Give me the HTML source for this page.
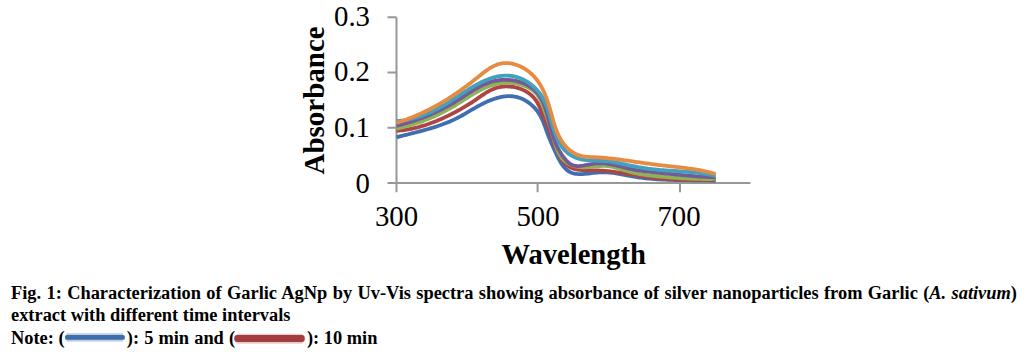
<!DOCTYPE html>
<html><head><meta charset="utf-8">
<style>
html,body{margin:0;padding:0;background:#fff;width:1026px;height:352px;overflow:hidden}
svg{display:block}
.t{font-family:"Liberation Serif",serif}
</style></head>
<body>
<svg width="1026" height="352" viewBox="0 0 1026 352">
<g stroke="#979797" stroke-width="2" fill="none">
<path d="M396.5 17.3V192.3M387.5 17.3H396.5M387.5 72.5H396.5M387.5 127.8H396.5M387.5 183H750.5M537.6 183V192.3M680 183V192.3"/>
</g>
<g class="t" font-size="28.8" fill="#000">
<text x="370" y="26" text-anchor="end">0.3</text>
<text x="370" y="81" text-anchor="end">0.2</text>
<text x="370" y="136.5" text-anchor="end">0.1</text>
<text x="370" y="192.8" text-anchor="end">0</text>
<text x="396.5" y="226" text-anchor="middle">300</text>
<text x="538" y="226" text-anchor="middle">500</text>
<text x="679" y="226.3" text-anchor="middle">700</text>
</g>
<text class="t" font-weight="bold" font-size="28.6" x="501.4" y="263.6">Wavelength</text>
<text class="t" font-weight="bold" font-size="29" transform="translate(323.9 174.5) rotate(-90)">Absorbance</text>
<g id="curves" fill="none" stroke-width="3.8" stroke-linejoin="round" stroke-linecap="butt">
<path stroke="#3f6fb0" d="M396.54 137.26 L397.90 136.91 L399.26 136.55 L400.63 136.20 L402.00 135.86 L403.38 135.51 L404.76 135.16 L406.14 134.82 L407.52 134.47 L408.91 134.13 L410.30 133.78 L411.69 133.43 L413.08 133.08 L414.47 132.73 L415.86 132.38 L417.25 132.02 L418.65 131.66 L420.04 131.29 L421.43 130.93 L422.82 130.55 L424.21 130.17 L425.60 129.79 L426.99 129.40 L428.38 129.00 L429.76 128.60 L431.14 128.18 L432.52 127.76 L433.89 127.34 L435.26 126.90 L436.63 126.46 L437.99 126.00 L439.35 125.54 L440.71 125.06 L442.06 124.57 L443.40 124.08 L444.74 123.57 L446.08 123.05 L447.40 122.51 L448.72 121.96 L450.04 121.40 L451.35 120.83 L452.65 120.24 L453.94 119.64 L455.23 119.02 L456.50 118.38 L457.77 117.73 L459.03 117.07 L460.29 116.39 L461.54 115.71 L462.78 115.01 L464.03 114.30 L465.26 113.59 L466.50 112.87 L467.73 112.15 L468.96 111.43 L470.19 110.71 L471.43 109.98 L472.66 109.26 L473.89 108.54 L475.13 107.83 L476.37 107.13 L477.62 106.43 L478.87 105.74 L480.13 105.06 L481.39 104.40 L482.66 103.75 L483.94 103.11 L485.23 102.49 L486.53 101.89 L487.84 101.31 L489.16 100.75 L490.49 100.21 L491.83 99.70 L493.19 99.21 L494.56 98.75 L495.95 98.32 L497.35 97.92 L498.77 97.55 L500.20 97.22 L501.64 96.93 L503.08 96.68 L504.53 96.47 L505.98 96.32 L507.42 96.22 L508.87 96.17 L510.30 96.18 L511.73 96.25 L513.14 96.39 L514.54 96.59 L515.93 96.85 L517.30 97.18 L518.65 97.57 L519.98 98.02 L521.29 98.52 L522.58 99.08 L523.85 99.69 L525.10 100.35 L526.32 101.06 L527.51 101.82 L528.67 102.63 L529.81 103.48 L530.92 104.38 L531.99 105.31 L533.03 106.29 L534.04 107.31 L535.02 108.36 L535.95 109.44 L536.85 110.56 L537.71 111.71 L538.53 112.90 L539.31 114.10 L540.05 115.34 L540.75 116.60 L541.40 117.88 L542.02 119.18 L542.61 120.50 L543.18 121.83 L543.72 123.17 L544.24 124.51 L544.74 125.86 L545.23 127.22 L545.71 128.57 L546.19 129.92 L546.66 131.26 L547.14 132.60 L547.63 133.92 L548.12 135.23 L548.63 136.52 L549.14 137.81 L549.66 139.09 L550.20 140.37 L550.74 141.64 L551.29 142.92 L551.86 144.20 L552.43 145.49 L553.01 146.79 L553.60 148.11 L554.21 149.44 L554.82 150.79 L555.44 152.15 L556.08 153.53 L556.73 154.91 L557.39 156.29 L558.08 157.66 L558.78 159.01 L559.51 160.35 L560.26 161.65 L561.03 162.93 L561.84 164.16 L562.67 165.34 L563.54 166.48 L564.43 167.55 L565.37 168.56 L566.34 169.49 L567.35 170.35 L568.40 171.12 L569.50 171.80 L570.64 172.38 L571.82 172.87 L573.04 173.27 L574.31 173.58 L575.61 173.82 L576.94 173.98 L578.30 174.08 L579.69 174.12 L581.11 174.12 L582.54 174.06 L584.00 173.97 L585.47 173.85 L586.95 173.70 L588.45 173.53 L589.95 173.35 L591.46 173.17 L592.97 172.98 L594.48 172.80 L595.99 172.64 L597.49 172.50 L598.99 172.38 L600.47 172.29 L601.93 172.25 L603.39 172.24 L604.83 172.26 L606.26 172.31 L607.69 172.40 L609.10 172.51 L610.50 172.64 L611.90 172.80 L613.29 172.98 L614.68 173.18 L616.06 173.39 L617.44 173.62 L618.81 173.86 L620.19 174.11 L621.56 174.37 L622.93 174.64 L624.30 174.90 L625.68 175.17 L627.06 175.44 L628.44 175.71 L629.83 175.97 L631.22 176.22 L632.62 176.47 L634.03 176.70 L635.44 176.92 L636.86 177.14 L638.28 177.35 L639.71 177.54 L641.14 177.73 L642.57 177.91 L644.01 178.08 L645.45 178.24 L646.89 178.40 L648.33 178.54 L649.78 178.68 L651.22 178.81 L652.66 178.93 L654.11 179.05 L655.55 179.16 L656.99 179.26 L658.43 179.35 L659.87 179.44 L661.30 179.52 L662.74 179.59 L664.17 179.66 L665.60 179.72 L667.03 179.78 L668.46 179.83 L669.89 179.88 L671.32 179.92 L672.74 179.96 L674.17 180.00 L675.59 180.03 L677.02 180.06 L678.44 180.08 L679.87 180.11 L681.29 180.13 L682.71 180.14 L684.14 180.16 L685.56 180.17 L686.98 180.19 L688.41 180.20 L689.83 180.21 L691.25 180.22 L692.68 180.23 L694.10 180.24 L695.53 180.25 L696.95 180.27 L698.38 180.28 L699.81 180.29 L701.24 180.31 L702.67 180.32 L704.10 180.34 L705.53 180.36 L706.96 180.39 L708.40 180.42 L709.84 180.45 L711.27 180.48 L712.71 180.52 L714.16 180.56 L715.60 180.60"/>
<path stroke="#b04444" d="M396.48 130.85 L397.95 130.73 L399.41 130.60 L400.88 130.44 L402.33 130.27 L403.79 130.08 L405.23 129.87 L406.68 129.65 L408.12 129.40 L409.55 129.14 L410.98 128.86 L412.40 128.56 L413.82 128.25 L415.24 127.92 L416.65 127.58 L418.05 127.22 L419.45 126.84 L420.85 126.45 L422.24 126.04 L423.63 125.62 L425.01 125.19 L426.39 124.74 L427.76 124.27 L429.13 123.80 L430.50 123.31 L431.86 122.81 L433.22 122.29 L434.57 121.77 L435.92 121.23 L437.26 120.68 L438.60 120.11 L439.93 119.54 L441.26 118.96 L442.59 118.36 L443.91 117.76 L445.23 117.14 L446.54 116.52 L447.85 115.89 L449.15 115.24 L450.46 114.59 L451.75 113.93 L453.04 113.26 L454.33 112.59 L455.62 111.90 L456.90 111.21 L458.17 110.51 L459.45 109.81 L460.71 109.10 L461.98 108.37 L463.24 107.64 L464.49 106.91 L465.74 106.16 L466.99 105.40 L468.23 104.64 L469.47 103.87 L470.70 103.08 L471.93 102.29 L473.16 101.49 L474.38 100.68 L475.59 99.85 L476.80 99.02 L478.01 98.18 L479.21 97.34 L480.42 96.50 L481.63 95.67 L482.84 94.84 L484.06 94.04 L485.28 93.25 L486.52 92.48 L487.76 91.74 L489.02 91.04 L490.30 90.37 L491.59 89.75 L492.90 89.16 L494.24 88.63 L495.59 88.16 L496.97 87.74 L498.37 87.38 L499.79 87.08 L501.23 86.84 L502.68 86.66 L504.15 86.53 L505.62 86.46 L507.10 86.45 L508.58 86.49 L510.06 86.59 L511.53 86.74 L513.00 86.95 L514.46 87.20 L515.91 87.51 L517.35 87.87 L518.76 88.29 L520.16 88.75 L521.54 89.27 L522.89 89.84 L524.21 90.47 L525.50 91.14 L526.76 91.87 L527.98 92.65 L529.17 93.48 L530.31 94.36 L531.41 95.29 L532.47 96.27 L533.47 97.31 L534.43 98.39 L535.32 99.53 L536.17 100.72 L536.96 101.95 L537.69 103.23 L538.39 104.53 L539.04 105.87 L539.66 107.23 L540.25 108.59 L540.83 109.97 L541.38 111.34 L541.93 112.71 L542.46 114.06 L543.00 115.39 L543.55 116.69 L544.09 117.98 L544.64 119.25 L545.19 120.50 L545.75 121.76 L546.30 123.01 L546.84 124.26 L547.39 125.53 L547.93 126.81 L548.47 128.11 L549.00 129.44 L549.52 130.79 L550.04 132.18 L550.55 133.58 L551.06 135.01 L551.57 136.46 L552.09 137.92 L552.60 139.38 L553.13 140.86 L553.66 142.34 L554.20 143.81 L554.75 145.28 L555.31 146.74 L555.89 148.19 L556.49 149.62 L557.10 151.03 L557.74 152.41 L558.40 153.77 L559.08 155.10 L559.79 156.39 L560.53 157.64 L561.31 158.85 L562.11 160.02 L562.95 161.13 L563.82 162.19 L564.74 163.19 L565.69 164.13 L566.69 165.00 L567.73 165.80 L568.81 166.54 L569.95 167.19 L571.13 167.77 L572.37 168.27 L573.64 168.69 L574.96 169.06 L576.31 169.36 L577.70 169.61 L579.11 169.81 L580.55 169.97 L582.02 170.09 L583.50 170.17 L585.00 170.23 L586.52 170.27 L588.04 170.30 L589.56 170.31 L591.09 170.32 L592.61 170.33 L594.13 170.34 L595.64 170.37 L597.14 170.41 L598.63 170.47 L600.10 170.54 L601.57 170.63 L603.03 170.72 L604.49 170.83 L605.93 170.95 L607.37 171.09 L608.80 171.23 L610.23 171.38 L611.65 171.54 L613.07 171.71 L614.48 171.89 L615.90 172.08 L617.31 172.27 L618.71 172.47 L620.12 172.67 L621.53 172.89 L622.93 173.10 L624.34 173.32 L625.75 173.54 L627.16 173.77 L628.58 174.00 L630.00 174.23 L631.42 174.46 L632.84 174.70 L634.28 174.93 L635.71 175.16 L637.15 175.39 L638.59 175.62 L640.04 175.85 L641.49 176.08 L642.94 176.30 L644.39 176.52 L645.84 176.73 L647.30 176.94 L648.76 177.14 L650.21 177.34 L651.67 177.53 L653.13 177.71 L654.59 177.88 L656.05 178.05 L657.50 178.20 L658.96 178.35 L660.41 178.49 L661.87 178.62 L663.32 178.74 L664.77 178.85 L666.22 178.96 L667.67 179.06 L669.12 179.15 L670.57 179.23 L672.02 179.31 L673.47 179.38 L674.92 179.45 L676.37 179.51 L677.82 179.56 L679.27 179.61 L680.72 179.65 L682.16 179.69 L683.61 179.72 L685.06 179.75 L686.51 179.78 L687.96 179.80 L689.41 179.82 L690.86 179.83 L692.31 179.84 L693.76 179.85 L695.21 179.86 L696.66 179.86 L698.11 179.86 L699.56 179.86 L701.02 179.86 L702.47 179.85 L703.93 179.85 L705.38 179.84 L706.84 179.84 L708.30 179.83 L709.75 179.82 L711.21 179.82 L712.67 179.81 L714.14 179.81 L715.60 179.80"/>
<path stroke="#8db352" d="M396.50 128.63 L397.95 128.32 L399.40 128.00 L400.84 127.67 L402.28 127.33 L403.71 126.98 L405.14 126.61 L406.57 126.24 L407.98 125.85 L409.40 125.45 L410.81 125.04 L412.21 124.62 L413.61 124.19 L415.01 123.74 L416.40 123.29 L417.78 122.82 L419.17 122.35 L420.54 121.86 L421.92 121.36 L423.28 120.85 L424.65 120.33 L426.01 119.80 L427.36 119.26 L428.71 118.71 L430.06 118.15 L431.40 117.58 L432.74 116.99 L434.07 116.40 L435.40 115.79 L436.73 115.18 L438.05 114.56 L439.37 113.92 L440.68 113.27 L441.99 112.62 L443.29 111.95 L444.59 111.28 L445.89 110.59 L447.19 109.89 L448.48 109.19 L449.76 108.47 L451.04 107.74 L452.32 107.01 L453.60 106.26 L454.87 105.51 L456.14 104.74 L457.40 103.96 L458.66 103.18 L459.92 102.39 L461.18 101.59 L462.43 100.80 L463.69 99.99 L464.94 99.19 L466.20 98.39 L467.45 97.60 L468.71 96.80 L469.97 96.02 L471.23 95.24 L472.49 94.47 L473.76 93.71 L475.03 92.96 L476.31 92.23 L477.59 91.51 L478.88 90.81 L480.18 90.13 L481.48 89.47 L482.79 88.83 L484.10 88.21 L485.43 87.62 L486.77 87.06 L488.11 86.52 L489.47 86.01 L490.83 85.54 L492.21 85.10 L493.60 84.69 L495.00 84.32 L496.41 83.98 L497.84 83.69 L499.28 83.43 L500.73 83.22 L502.19 83.04 L503.66 82.91 L505.13 82.82 L506.60 82.77 L508.08 82.76 L509.55 82.80 L511.03 82.88 L512.50 83.00 L513.97 83.17 L515.43 83.39 L516.89 83.65 L518.34 83.96 L519.78 84.31 L521.20 84.71 L522.61 85.16 L524.01 85.66 L525.39 86.21 L526.75 86.81 L528.09 87.45 L529.40 88.15 L530.68 88.91 L531.91 89.71 L533.10 90.58 L534.23 91.50 L535.30 92.47 L536.29 93.51 L537.22 94.61 L538.07 95.77 L538.86 96.97 L539.58 98.23 L540.26 99.52 L540.88 100.84 L541.47 102.19 L542.02 103.56 L542.54 104.95 L543.05 106.34 L543.54 107.74 L544.02 109.14 L544.50 110.52 L544.98 111.89 L545.46 113.26 L545.94 114.61 L546.42 115.97 L546.89 117.32 L547.37 118.66 L547.84 120.02 L548.31 121.37 L548.78 122.73 L549.23 124.11 L549.69 125.49 L550.13 126.88 L550.57 128.30 L551.00 129.73 L551.43 131.18 L551.84 132.64 L552.25 134.12 L552.67 135.61 L553.08 137.10 L553.51 138.60 L553.94 140.09 L554.38 141.58 L554.83 143.06 L555.31 144.53 L555.80 145.98 L556.32 147.41 L556.87 148.82 L557.44 150.20 L558.05 151.54 L558.69 152.86 L559.37 154.13 L560.09 155.37 L560.86 156.55 L561.67 157.69 L562.54 158.77 L563.45 159.80 L564.43 160.77 L565.46 161.67 L566.55 162.51 L567.71 163.27 L568.92 163.96 L570.19 164.59 L571.50 165.14 L572.86 165.63 L574.25 166.05 L575.66 166.41 L577.11 166.70 L578.56 166.93 L580.03 167.09 L581.51 167.19 L582.99 167.24 L584.48 167.24 L585.97 167.20 L587.46 167.12 L588.96 167.02 L590.45 166.90 L591.95 166.76 L593.45 166.61 L594.94 166.47 L596.43 166.32 L597.93 166.20 L599.41 166.09 L600.89 166.00 L602.37 165.95 L603.84 165.94 L605.30 165.97 L606.76 166.06 L608.20 166.20 L609.64 166.38 L611.07 166.62 L612.50 166.89 L613.92 167.20 L615.34 167.54 L616.75 167.91 L618.16 168.30 L619.57 168.71 L620.98 169.13 L622.39 169.56 L623.79 170.00 L625.20 170.44 L626.61 170.87 L628.02 171.30 L629.44 171.71 L630.86 172.10 L632.28 172.47 L633.71 172.82 L635.14 173.15 L636.58 173.46 L638.02 173.74 L639.46 174.01 L640.91 174.26 L642.36 174.49 L643.82 174.71 L645.28 174.92 L646.73 175.12 L648.19 175.30 L649.66 175.47 L651.12 175.64 L652.58 175.80 L654.05 175.95 L655.51 176.10 L656.98 176.25 L658.44 176.39 L659.90 176.53 L661.37 176.67 L662.83 176.80 L664.30 176.94 L665.76 177.06 L667.22 177.19 L668.69 177.31 L670.15 177.43 L671.61 177.54 L673.08 177.65 L674.54 177.76 L676.00 177.86 L677.46 177.96 L678.93 178.06 L680.39 178.15 L681.86 178.24 L683.32 178.32 L684.78 178.40 L686.25 178.47 L687.71 178.54 L689.18 178.61 L690.64 178.67 L692.11 178.73 L693.57 178.78 L695.04 178.82 L696.50 178.86 L697.97 178.90 L699.44 178.93 L700.90 178.96 L702.37 178.98 L703.84 178.99 L705.31 179.00 L706.78 179.00 L708.24 179.00 L709.71 178.99 L711.18 178.98 L712.66 178.96 L714.13 178.93 L715.60 178.90"/>
<path stroke="#755a99" d="M396.47 125.81 L397.93 125.45 L399.38 125.08 L400.83 124.71 L402.27 124.32 L403.70 123.93 L405.13 123.53 L406.55 123.12 L407.97 122.70 L409.38 122.28 L410.79 121.84 L412.20 121.40 L413.59 120.94 L414.99 120.48 L416.38 120.01 L417.76 119.53 L419.14 119.03 L420.51 118.53 L421.88 118.02 L423.25 117.51 L424.61 116.98 L425.96 116.44 L427.32 115.89 L428.66 115.33 L430.00 114.76 L431.34 114.19 L432.68 113.60 L434.01 113.00 L435.33 112.39 L436.65 111.77 L437.97 111.15 L439.28 110.51 L440.59 109.86 L441.90 109.20 L443.20 108.53 L444.50 107.85 L445.79 107.16 L447.08 106.45 L448.37 105.74 L449.65 105.02 L450.93 104.28 L452.21 103.54 L453.48 102.78 L454.75 102.02 L456.02 101.24 L457.28 100.45 L458.54 99.65 L459.80 98.84 L461.06 98.03 L462.31 97.21 L463.57 96.40 L464.82 95.58 L466.08 94.76 L467.34 93.94 L468.60 93.14 L469.86 92.33 L471.13 91.54 L472.40 90.76 L473.67 89.99 L474.95 89.23 L476.24 88.49 L477.53 87.77 L478.83 87.07 L480.14 86.38 L481.46 85.73 L482.78 85.09 L484.11 84.49 L485.46 83.91 L486.81 83.37 L488.18 82.85 L489.56 82.38 L490.95 81.93 L492.35 81.53 L493.77 81.17 L495.20 80.84 L496.64 80.56 L498.10 80.33 L499.58 80.14 L501.06 79.99 L502.55 79.89 L504.04 79.83 L505.54 79.82 L507.04 79.85 L508.54 79.93 L510.04 80.05 L511.53 80.21 L513.02 80.42 L514.49 80.67 L515.96 80.96 L517.41 81.30 L518.84 81.68 L520.26 82.11 L521.65 82.58 L523.03 83.09 L524.38 83.65 L525.70 84.25 L526.99 84.90 L528.26 85.58 L529.49 86.31 L530.68 87.09 L531.84 87.90 L532.96 88.77 L534.03 89.67 L535.07 90.62 L536.05 91.61 L536.99 92.64 L537.88 93.71 L538.73 94.83 L539.53 95.98 L540.29 97.17 L541.01 98.39 L541.70 99.65 L542.34 100.93 L542.96 102.25 L543.55 103.59 L544.10 104.96 L544.63 106.34 L545.14 107.75 L545.62 109.18 L546.09 110.63 L546.53 112.09 L546.97 113.56 L547.38 115.05 L547.79 116.54 L548.19 118.04 L548.58 119.55 L548.96 121.06 L549.35 122.58 L549.73 124.09 L550.12 125.60 L550.50 127.11 L550.90 128.61 L551.30 130.10 L551.72 131.58 L552.14 133.05 L552.58 134.51 L553.04 135.96 L553.51 137.39 L554.00 138.81 L554.51 140.21 L555.04 141.59 L555.59 142.97 L556.16 144.32 L556.76 145.66 L557.38 146.98 L558.03 148.29 L558.70 149.57 L559.40 150.84 L560.13 152.09 L560.90 153.32 L561.69 154.54 L562.51 155.73 L563.37 156.90 L564.27 158.05 L565.20 159.18 L566.16 160.29 L567.17 161.37 L568.22 162.39 L569.31 163.31 L570.45 164.12 L571.64 164.77 L572.87 165.27 L574.15 165.64 L575.47 165.88 L576.83 166.01 L578.21 166.05 L579.63 166.00 L581.07 165.88 L582.54 165.69 L584.02 165.46 L585.52 165.19 L587.03 164.91 L588.55 164.61 L590.07 164.31 L591.60 164.03 L593.12 163.77 L594.63 163.56 L596.14 163.40 L597.63 163.29 L599.12 163.23 L600.59 163.23 L602.06 163.26 L603.52 163.34 L604.97 163.46 L606.41 163.61 L607.85 163.80 L609.29 164.02 L610.72 164.27 L612.14 164.54 L613.57 164.83 L614.98 165.14 L616.40 165.47 L617.82 165.80 L619.23 166.15 L620.65 166.51 L622.06 166.87 L623.48 167.23 L624.90 167.59 L626.32 167.94 L627.74 168.29 L629.17 168.63 L630.60 168.95 L632.04 169.25 L633.48 169.54 L634.93 169.81 L636.38 170.07 L637.84 170.31 L639.29 170.53 L640.76 170.74 L642.22 170.95 L643.69 171.14 L645.16 171.32 L646.63 171.49 L648.10 171.66 L649.58 171.82 L651.05 171.98 L652.53 172.14 L654.00 172.29 L655.47 172.44 L656.94 172.59 L658.41 172.74 L659.88 172.89 L661.35 173.04 L662.82 173.19 L664.29 173.34 L665.75 173.49 L667.21 173.64 L668.68 173.79 L670.14 173.93 L671.60 174.08 L673.07 174.23 L674.53 174.37 L675.99 174.51 L677.45 174.65 L678.91 174.79 L680.37 174.93 L681.83 175.07 L683.29 175.20 L684.75 175.33 L686.22 175.46 L687.68 175.58 L689.14 175.71 L690.60 175.83 L692.06 175.95 L693.53 176.06 L694.99 176.17 L696.46 176.28 L697.92 176.38 L699.39 176.48 L700.86 176.58 L702.32 176.67 L703.79 176.76 L705.26 176.85 L706.74 176.92 L708.21 177.00 L709.68 177.07 L711.16 177.14 L712.64 177.20 L714.12 177.25 L715.60 177.30"/>
<path stroke="#40a2bd" d="M396.47 121.04 L397.98 120.95 L399.49 120.84 L400.98 120.69 L402.46 120.52 L403.92 120.33 L405.38 120.10 L406.83 119.86 L408.27 119.59 L409.70 119.30 L411.11 118.98 L412.52 118.64 L413.92 118.28 L415.31 117.89 L416.70 117.49 L418.07 117.07 L419.44 116.62 L420.79 116.16 L422.14 115.67 L423.49 115.17 L424.82 114.65 L426.15 114.11 L427.48 113.56 L428.79 112.99 L430.10 112.40 L431.41 111.80 L432.71 111.18 L434.00 110.55 L435.29 109.90 L436.57 109.24 L437.85 108.57 L439.12 107.88 L440.39 107.19 L441.66 106.48 L442.92 105.76 L444.18 105.03 L445.44 104.29 L446.69 103.54 L447.94 102.78 L449.19 102.02 L450.43 101.24 L451.68 100.46 L452.92 99.67 L454.16 98.88 L455.40 98.08 L456.64 97.27 L457.87 96.46 L459.11 95.65 L460.35 94.84 L461.59 94.02 L462.82 93.21 L464.07 92.40 L465.31 91.59 L466.55 90.78 L467.80 89.99 L469.05 89.20 L470.30 88.42 L471.56 87.64 L472.82 86.89 L474.09 86.14 L475.36 85.41 L476.64 84.69 L477.92 83.99 L479.21 83.31 L480.51 82.65 L481.81 82.01 L483.12 81.39 L484.44 80.79 L485.77 80.22 L487.11 79.68 L488.45 79.16 L489.81 78.67 L491.17 78.22 L492.55 77.79 L493.94 77.40 L495.34 77.04 L496.75 76.72 L498.17 76.43 L499.60 76.18 L501.04 75.98 L502.48 75.82 L503.93 75.70 L505.38 75.63 L506.83 75.62 L508.28 75.65 L509.72 75.74 L511.16 75.88 L512.59 76.09 L514.02 76.35 L515.43 76.67 L516.83 77.04 L518.21 77.47 L519.58 77.96 L520.94 78.49 L522.27 79.07 L523.59 79.70 L524.89 80.38 L526.16 81.11 L527.41 81.87 L528.64 82.68 L529.84 83.53 L531.01 84.42 L532.16 85.34 L533.27 86.30 L534.35 87.29 L535.40 88.32 L536.42 89.37 L537.40 90.46 L538.34 91.57 L539.24 92.71 L540.10 93.88 L540.92 95.06 L541.70 96.27 L542.44 97.50 L543.14 98.75 L543.80 100.01 L544.43 101.29 L545.03 102.59 L545.60 103.91 L546.15 105.24 L546.67 106.58 L547.17 107.94 L547.65 109.31 L548.11 110.69 L548.56 112.07 L549.00 113.47 L549.42 114.87 L549.84 116.29 L550.26 117.70 L550.67 119.13 L551.08 120.55 L551.49 121.98 L551.91 123.41 L552.33 124.85 L552.77 126.28 L553.21 127.71 L553.67 129.14 L554.14 130.57 L554.63 131.99 L555.15 133.41 L555.68 134.81 L556.24 136.21 L556.82 137.59 L557.43 138.95 L558.07 140.29 L558.74 141.61 L559.44 142.90 L560.18 144.16 L560.95 145.39 L561.76 146.58 L562.60 147.73 L563.49 148.84 L564.42 149.91 L565.39 150.92 L566.41 151.89 L567.47 152.80 L568.56 153.66 L569.70 154.47 L570.87 155.23 L572.08 155.94 L573.32 156.59 L574.59 157.19 L575.89 157.73 L577.21 158.22 L578.56 158.66 L579.93 159.04 L581.32 159.37 L582.73 159.64 L584.15 159.87 L585.59 160.06 L587.04 160.22 L588.51 160.34 L589.98 160.44 L591.47 160.52 L592.95 160.57 L594.45 160.62 L595.94 160.66 L597.44 160.70 L598.94 160.74 L600.43 160.79 L601.92 160.85 L603.40 160.92 L604.88 161.02 L606.35 161.15 L607.80 161.29 L609.25 161.47 L610.69 161.66 L612.13 161.88 L613.56 162.11 L614.98 162.36 L616.40 162.62 L617.81 162.89 L619.22 163.18 L620.63 163.47 L622.04 163.77 L623.44 164.08 L624.85 164.38 L626.25 164.69 L627.65 165.00 L629.06 165.30 L630.47 165.60 L631.88 165.90 L633.29 166.18 L634.71 166.46 L636.13 166.73 L637.56 166.99 L638.98 167.25 L640.41 167.49 L641.85 167.73 L643.28 167.95 L644.72 168.17 L646.16 168.38 L647.60 168.59 L649.04 168.78 L650.49 168.96 L651.93 169.14 L653.38 169.31 L654.83 169.47 L656.28 169.62 L657.73 169.76 L659.19 169.89 L660.64 170.02 L662.09 170.13 L663.55 170.25 L665.00 170.36 L666.46 170.46 L667.92 170.56 L669.37 170.65 L670.83 170.75 L672.29 170.84 L673.74 170.93 L675.20 171.01 L676.66 171.10 L678.11 171.19 L679.57 171.28 L681.03 171.38 L682.48 171.47 L683.94 171.57 L685.39 171.67 L686.84 171.78 L688.29 171.89 L689.74 172.01 L691.19 172.14 L692.64 172.27 L694.09 172.41 L695.54 172.56 L696.98 172.72 L698.43 172.89 L699.87 173.07 L701.31 173.26 L702.75 173.47 L704.18 173.69 L705.62 173.92 L707.05 174.17 L708.48 174.43 L709.91 174.71 L711.34 175.00 L712.76 175.31 L714.18 175.65 L715.60 175.99"/>
<path stroke="#e88b42" d="M396.41 123.01 L397.89 122.52 L399.36 122.03 L400.82 121.53 L402.28 121.02 L403.73 120.50 L405.17 119.98 L406.60 119.44 L408.02 118.90 L409.44 118.35 L410.85 117.79 L412.26 117.22 L413.66 116.64 L415.05 116.06 L416.43 115.46 L417.81 114.86 L419.18 114.25 L420.55 113.63 L421.91 113.01 L423.26 112.37 L424.61 111.73 L425.95 111.08 L427.29 110.42 L428.62 109.75 L429.94 109.07 L431.26 108.39 L432.58 107.70 L433.89 106.99 L435.20 106.29 L436.50 105.57 L437.79 104.84 L439.08 104.11 L440.37 103.37 L441.65 102.62 L442.93 101.86 L444.21 101.09 L445.48 100.32 L446.75 99.54 L448.01 98.75 L449.27 97.95 L450.53 97.14 L451.78 96.33 L453.03 95.50 L454.28 94.67 L455.52 93.84 L456.76 92.99 L458.00 92.13 L459.24 91.27 L460.47 90.40 L461.70 89.52 L462.93 88.64 L464.16 87.74 L465.38 86.84 L466.61 85.93 L467.83 85.01 L469.05 84.09 L470.27 83.15 L471.49 82.21 L472.70 81.26 L473.92 80.31 L475.13 79.34 L476.35 78.37 L477.56 77.39 L478.77 76.41 L479.99 75.43 L481.20 74.46 L482.43 73.50 L483.65 72.55 L484.88 71.63 L486.12 70.73 L487.37 69.86 L488.62 69.02 L489.89 68.21 L491.16 67.45 L492.45 66.73 L493.75 66.07 L495.07 65.46 L496.39 64.90 L497.74 64.41 L499.10 63.99 L500.48 63.64 L501.88 63.37 L503.29 63.17 L504.73 63.06 L506.19 63.04 L507.66 63.09 L509.14 63.22 L510.63 63.43 L512.13 63.71 L513.61 64.06 L515.10 64.48 L516.57 64.96 L518.03 65.50 L519.47 66.09 L520.89 66.74 L522.28 67.43 L523.65 68.18 L524.97 68.97 L526.26 69.80 L527.51 70.66 L528.71 71.57 L529.87 72.50 L530.99 73.48 L532.08 74.48 L533.12 75.52 L534.13 76.59 L535.10 77.69 L536.04 78.82 L536.94 79.98 L537.81 81.16 L538.65 82.37 L539.46 83.61 L540.24 84.86 L540.99 86.14 L541.71 87.45 L542.41 88.77 L543.08 90.11 L543.72 91.47 L544.34 92.85 L544.94 94.24 L545.52 95.65 L546.08 97.07 L546.61 98.51 L547.13 99.95 L547.64 101.41 L548.12 102.88 L548.59 104.35 L549.05 105.84 L549.49 107.32 L549.92 108.82 L550.35 110.32 L550.77 111.82 L551.19 113.32 L551.60 114.82 L552.02 116.32 L552.43 117.81 L552.86 119.31 L553.29 120.79 L553.72 122.27 L554.18 123.74 L554.64 125.21 L555.12 126.66 L555.62 128.09 L556.13 129.52 L556.67 130.93 L557.24 132.33 L557.83 133.70 L558.45 135.06 L559.10 136.40 L559.78 137.72 L560.50 139.01 L561.26 140.28 L562.05 141.52 L562.89 142.74 L563.76 143.93 L564.67 145.08 L565.62 146.19 L566.61 147.27 L567.64 148.30 L568.70 149.28 L569.80 150.22 L570.93 151.10 L572.10 151.93 L573.31 152.71 L574.55 153.42 L575.82 154.06 L577.13 154.65 L578.47 155.16 L579.85 155.59 L581.26 155.96 L582.69 156.25 L584.15 156.49 L585.64 156.68 L587.14 156.83 L588.65 156.94 L590.18 157.03 L591.71 157.10 L593.25 157.17 L594.79 157.24 L596.33 157.32 L597.86 157.41 L599.38 157.50 L600.91 157.61 L602.43 157.73 L603.95 157.85 L605.47 157.99 L606.98 158.13 L608.49 158.27 L610.00 158.43 L611.50 158.59 L613.01 158.76 L614.51 158.94 L616.01 159.12 L617.50 159.30 L619.00 159.49 L620.49 159.68 L621.98 159.88 L623.48 160.09 L624.97 160.29 L626.45 160.50 L627.94 160.71 L629.43 160.92 L630.91 161.14 L632.40 161.35 L633.88 161.57 L635.37 161.79 L636.85 162.01 L638.34 162.22 L639.82 162.44 L641.31 162.66 L642.79 162.87 L644.28 163.08 L645.76 163.30 L647.25 163.50 L648.74 163.71 L650.22 163.91 L651.71 164.11 L653.20 164.31 L654.69 164.50 L656.19 164.68 L657.68 164.87 L659.18 165.04 L660.67 165.21 L662.17 165.38 L663.67 165.55 L665.17 165.72 L666.67 165.88 L668.17 166.04 L669.67 166.20 L671.17 166.36 L672.67 166.53 L674.18 166.69 L675.68 166.85 L677.18 167.02 L678.68 167.19 L680.18 167.37 L681.68 167.54 L683.18 167.73 L684.67 167.91 L686.17 168.11 L687.66 168.31 L689.16 168.51 L690.65 168.73 L692.14 168.95 L693.63 169.18 L695.11 169.42 L696.60 169.67 L698.08 169.93 L699.56 170.20 L701.03 170.48 L702.51 170.77 L703.98 171.08 L705.45 171.40 L706.91 171.73 L708.38 172.08 L709.83 172.44 L711.29 172.82 L712.74 173.21 L714.19 173.62 L715.63 174.05"/>
</g>
<g class="t" font-weight="bold" font-size="18.4" fill="#000">
<text x="11" y="298.8" word-spacing="0.75">Fig. 1: Characterization of Garlic AgNp by Uv-Vis spectra showing absorbance of silver nanoparticles from Garlic (<tspan font-style="italic">A. sativum</tspan>)</text>
<text x="11" y="320.5">extract with different time intervals</text>
<text x="11" y="343.6">Note: (</text>
<text x="126.8" y="343.6" word-spacing="0.5">): 5 min and (</text>
<text x="306.9" y="343.6">): 10 min</text>
</g>
<rect x="66.5" y="333.2" width="56.5" height="8.4" fill="#bccde4"/>
<rect x="65.1" y="335" width="59.7" height="4.8" rx="1.5" fill="#3d6caa"/>
<rect x="235" y="333.7" width="69" height="10" rx="4" fill="#ebcaca"/>
<rect x="234.2" y="335" width="70.6" height="7" rx="3.2" fill="#a43e3e"/>
</svg>
</body></html>
